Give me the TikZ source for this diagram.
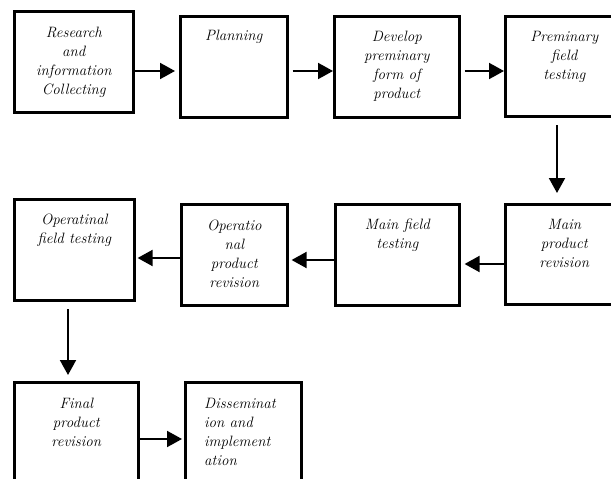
\documentclass[tikz,border=0pt]{standalone}
\usetikzlibrary{arrows.meta}
\begin{document}
\begin{tikzpicture}[x=1pt,y=-1pt,
  box/.style={draw=black,line width=2.6pt,rectangle,inner sep=0pt,anchor=north west},
  txt/.style={anchor=north,inner sep=0pt,align=center,font=\fontsize{15}{19}\selectfont\itshape},
  arr/.style={line width=2pt,-{Triangle[length=15pt,width=16pt]}}]
\useasboundingbox (0,0) rectangle (611,479);
\clip (0,0) rectangle (611,479);
% row 1
\node[box,minimum width=119pt,minimum height=101pt] (b1) at (13,10) {};
\node[box,minimum width=107pt,minimum height=101pt] (b2) at (179,15) {};
\node[box,minimum width=125pt,minimum height=101pt] (b3) at (333,15) {};
\node[box,minimum width=118pt,minimum height=100pt] (b4) at (504,15) {};
% row 2
\node[box,minimum width=118pt,minimum height=100pt] (b5) at (504,203) {};
\node[box,minimum width=124pt,minimum height=101pt] (b6) at (334,203) {};
\node[box,minimum width=106pt,minimum height=101pt] (b7) at (180,203) {};
\node[box,minimum width=120pt,minimum height=101pt] (b8) at (13,198) {};
% row 3
\node[box,minimum width=124pt,minimum height=120pt] (b9) at (13,381) {};
\node[box,minimum width=116pt,minimum height=120pt] (b10) at (184,381) {};
% texts
\node[txt] (t1) at ([yshift=-17pt]b1.north) {Research\\and\\information\\Collecting};
\node[txt] (t2) at ([yshift=-15pt]b2.north) {Planning};
\node[txt] (t3) at ([yshift=-16pt]b3.north) {Develop\\preminary\\form of\\product};
\node[txt] (t4) at ([yshift=-16pt]b4.north) {Preminary\\field\\testing};
\node[txt] (t5) at ([yshift=-16pt]b5.north) {Main\\product\\revision};
\node[txt] (t6) at ([yshift=-16pt]b6.north) {Main field\\testing};
\node[txt] (t7) at ([yshift=-17pt]b7.north) {Operatio\\nal\\product\\revision};
\node[txt] (t8) at ([yshift=-16pt]b8.north) {Operatinal\\field testing};
\node[txt] (t9) at ([yshift=-17pt]b9.north) {Final\\product\\revision};
\node[txt,anchor=north west,align=left] (t10) at ([xshift=20pt,yshift=-17pt]b10.north west) {Disseminat\\ion and\\implement\\ation};
% arrows
\draw[arr] (b1.east |- 0,71) -- ([xshift=-4pt]b2.west |- 0,71);
\draw[arr] ([xshift=4pt]b2.east |- 0,71) -- (b3.west |- 0,71);
\draw[arr] ([xshift=4pt]b3.east |- 0,71) -- (b4.west |- 0,71);
\draw[arr] (557,125) coordinate (d1) -- ([yshift=10pt]d1 |- b5.north);
\draw[arr] (b5.west |- 0,264) -- ([xshift=4pt]b6.east |- 0,264);
\draw[arr] (b6.west |- 0,260) -- ([xshift=3pt]b7.east |- 0,260);
\draw[arr] (b7.west |- 0,258) -- ([xshift=2pt]b8.east |- 0,258);
\draw[arr] (68,309) coordinate (d2) -- ([yshift=6pt]d2 |- b9.north);
\draw[arr] (b9.east |- 0,439) -- ([xshift=-2pt]b10.west |- 0,439);
\end{tikzpicture}
\end{document}
